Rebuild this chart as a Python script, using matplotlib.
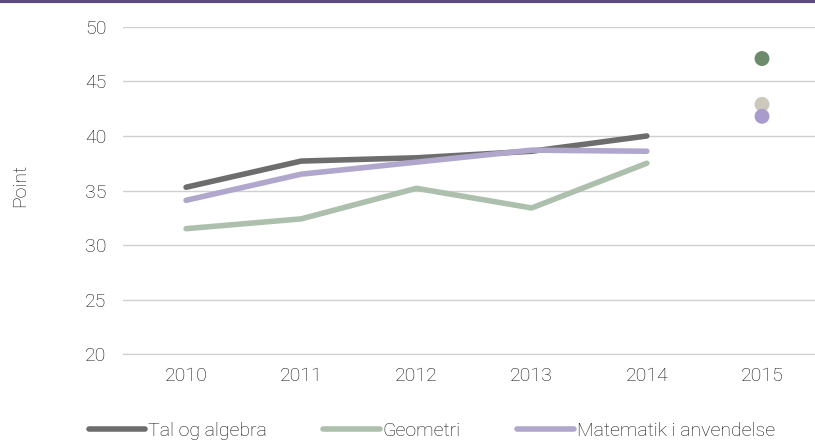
import matplotlib.pyplot as plt
from matplotlib.lines import Line2D

plt.rcParams['font.family'] = ['Roboto', 'DejaVu Sans']
plt.rcParams['font.weight'] = 'light'

years = ['2010', '2011', '2012', '2013', '2014', '2015']
tal = [35.3, 37.7, 38.0, 38.6, 40.0]
geometri = [31.5, 32.4, 35.2, 33.4, 37.5]
matematik = [34.1, 36.5, 37.6, 38.7, 38.6]
# 2015 values (shown as dots)
tal_2015 = 47.1
geometri_2015 = 42.9
matematik_2015 = 41.8

fig = plt.figure(figsize=(8.15, 4.41), dpi=100)
ax = fig.add_axes([0.151, 0.197, 0.849, 0.742])

x = list(range(5))
ax.plot(x, tal, color='#6d6d6d', lw=4, solid_capstyle='round', zorder=3)
ax.plot(x, geometri, color='#adbfad', lw=4, solid_capstyle='round', zorder=3)
ax.plot(x, matematik, color='#b1a7cc', lw=4, solid_capstyle='round', zorder=4)

ax.scatter([5], [tal_2015], s=115, color='#6b8b6b', zorder=5, edgecolors='none')
ax.scatter([5], [geometri_2015], s=115, color='#cdc8bc', zorder=5, edgecolors='none')
ax.scatter([5], [matematik_2015], s=115, color='#a99bcc', zorder=6, edgecolors='none')

ax.set_xlim(-0.547, 5.46)
ax.set_ylim(20, 50)
ax.set_yticks(range(20, 51, 5))
ax.set_xticks(range(6))
ax.set_xticklabels(years)
ax.grid(axis='y', color='#d0d0d0', lw=1)
ax.set_axisbelow(True)
for s in ['top', 'right', 'left']:
    ax.spines[s].set_visible(False)
ax.spines['bottom'].set_color('#d0d0d0')
ax.tick_params(length=0, labelsize=14, colors='#111111')
ax.tick_params(axis='x', pad=9)
ax.tick_params(axis='y', pad=12)
fig.text(20 / 815, 1 - 185 / 441, 'Point', rotation=90, fontsize=14,
         color='#111111', ha='center', va='center')

handles = [Line2D([], [], color='#6d6d6d', lw=4, solid_capstyle='round'),
           Line2D([], [], color='#adbfad', lw=4, solid_capstyle='round'),
           Line2D([], [], color='#b1a7cc', lw=4, solid_capstyle='round')]
leg = fig.legend(handles, ['Tal og algebra', 'Geometri', 'Matematik i anvendelse'],
                 loc='center left', bbox_to_anchor=(89 / 815, 1 - 431 / 441), ncol=3,
                 frameon=False, fontsize=14, handlelength=2.9, handletextpad=0.15,
                 columnspacing=2.9, borderpad=0, borderaxespad=0)
for t in leg.get_texts():
    t.set_color('#111111')

# purple band at the top
fig.add_artist(Line2D([0, 1], [0.997, 0.997], color='#5b4a86', lw=3, transform=fig.transFigure))

fig.savefig('out.png', dpi=100)
